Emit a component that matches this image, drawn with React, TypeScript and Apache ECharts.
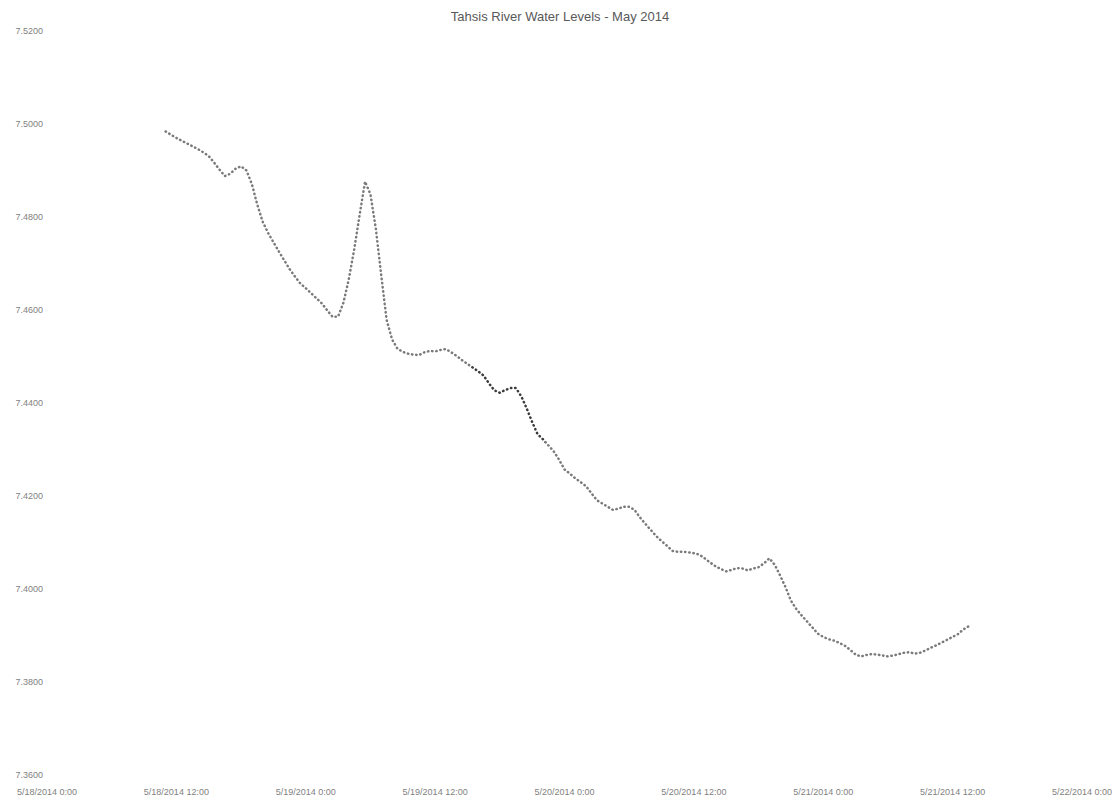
import React, { useEffect, useRef } from "react";
import * as echarts from "echarts";

const TITLE = "Tahsis River Water Levels - May 2014";
// Readings every 30 minutes, starting 5/18/2014 11:00
const AXIS_START = "2014-05-18T00:00:00";
const FIRST_READING = "2014-05-18T11:00:00";
const STEP_MINUTES = 30;
const levels: number[] = [
  7.4984, 7.4977, 7.497, 7.4964, 7.4958, 7.4952, 7.4946, 7.4939, 7.4931, 7.4917,
  7.4902, 7.4888, 7.4893, 7.4904, 7.4909, 7.49, 7.4871, 7.4827, 7.479, 7.4766,
  7.4746, 7.4726, 7.4707, 7.4688, 7.4672, 7.4657, 7.4647, 7.4636, 7.4625, 7.4614,
  7.4599, 7.4585, 7.4586, 7.4616, 7.4667, 7.4731, 7.4805, 7.4876, 7.4849, 7.4775,
  7.4675, 7.4579, 7.4537, 7.4517, 7.451, 7.4506, 7.4504, 7.4503, 7.4509, 7.4512,
  7.4511, 7.4514, 7.4516, 7.4509, 7.4501, 7.4492, 7.4484, 7.4476, 7.4468, 7.4459,
  7.4442, 7.4427, 7.4422, 7.4428, 7.4432, 7.4432, 7.4414, 7.4388, 7.4359, 7.4333,
  7.4322, 7.4309, 7.4296, 7.4278, 7.4257, 7.4248, 7.4238, 7.423, 7.4221, 7.4206,
  7.4191, 7.4184, 7.4177, 7.417, 7.4173, 7.4177, 7.4177, 7.417, 7.4154, 7.414,
  7.4127, 7.4114, 7.4103, 7.4093, 7.4082, 7.408, 7.408, 7.4079, 7.4077, 7.4074,
  7.4066, 7.4057, 7.4049, 7.4043, 7.4038, 7.4041, 7.4045, 7.4044, 7.404, 7.4044,
  7.4047, 7.4055, 7.4066, 7.4052, 7.4029, 7.4004, 7.3975, 7.3957, 7.3943, 7.393,
  7.3917, 7.3904, 7.3897, 7.3892, 7.3889, 7.3884, 7.3878, 7.3869, 7.3859, 7.3855,
  7.3858, 7.386, 7.3859, 7.3857, 7.3855, 7.3857, 7.386, 7.3863, 7.3864, 7.3861,
  7.3863, 7.3868, 7.3874, 7.3879, 7.3885, 7.3891, 7.3897, 7.3903, 7.3913, 7.392,
];
const Y_MIN = 7.36;
const Y_MAX = 7.52;
const Y_STEP = 0.02;
const X_SPAN_HOURS = 96;
const X_STEP_HOURS = 12;
// darker section of the dotted line (hours from axis start)
const DARK_FROM = 39.3;
const DARK_TO = 46.2;

const HOUR = 3600 * 1000;

function labelFor(hours: number): string {
  const d = new Date(new Date(AXIS_START).getTime() + hours * HOUR);
  const mm = String(d.getMinutes()).padStart(2, "0");
  return `${d.getMonth() + 1}/${d.getDate()}/${d.getFullYear()} ${d.getHours()}:${mm}`;
}

export default function App() {
  const ref = useRef<HTMLDivElement>(null);
  useEffect(() => {
    if (!ref.current) return;
    const chart = echarts.init(ref.current, null, { renderer: "svg" });
    const base = new Date(AXIS_START).getTime();
    const first = new Date(FIRST_READING).getTime();
    const data = levels.map((v, i) => [
      (first + i * STEP_MINUTES * 60000 - base) / HOUR,
      v,
    ]);
    const font = "'Liberation Sans', Arial, sans-serif";
    chart.setOption({
      animation: false,
      backgroundColor: "#ffffff",
      title: {
        text: TITLE,
        left: "center",
        top: 5,
        textStyle: { fontFamily: font, fontSize: 13, fontWeight: "normal", color: "#595959" },
      },
      grid: { left: 47, right: 38, top: 31, bottom: 32, containLabel: false },
      xAxis: {
        type: "value",
        min: 0,
        max: X_SPAN_HOURS,
        interval: X_STEP_HOURS,
        axisLine: { show: false },
        axisTick: { show: false },
        splitLine: { show: false },
        axisLabel: {
          margin: 12,
          fontFamily: font,
          fontSize: 9,
          color: "#7f7f7f",
          formatter: (v: number) => labelFor(v),
        },
      },
      yAxis: {
        type: "value",
        min: Y_MIN,
        max: Y_MAX,
        interval: Y_STEP,
        axisLine: { show: false },
        axisTick: { show: false },
        splitLine: { show: false },
        axisLabel: {
          margin: 4,
          fontFamily: font,
          fontSize: 9,
          color: "#7f7f7f",
          formatter: (v: number) => v.toFixed(4),
        },
      },
      visualMap: {
        show: false,
        type: "piecewise",
        dimension: 0,
        seriesIndex: 0,
        pieces: [{ gt: DARK_FROM, lte: DARK_TO, color: "#3a3a3a" }],
        outOfRange: { color: "#7a7a7a" },
      },
      series: [
        {
          type: "line",
          data,
          showSymbol: false,
          symbol: "none",
          lineStyle: {
            width: 2.5,
            type: [0.4, 3.8],
            cap: "round",
          },
        },
      ],
    });
    return () => chart.dispose();
  }, []);
  return (
    <div
      ref={ref}
      style={{ position: "fixed", left: 0, top: 0, width: 1120, height: 807 }}
    />
  );
}
